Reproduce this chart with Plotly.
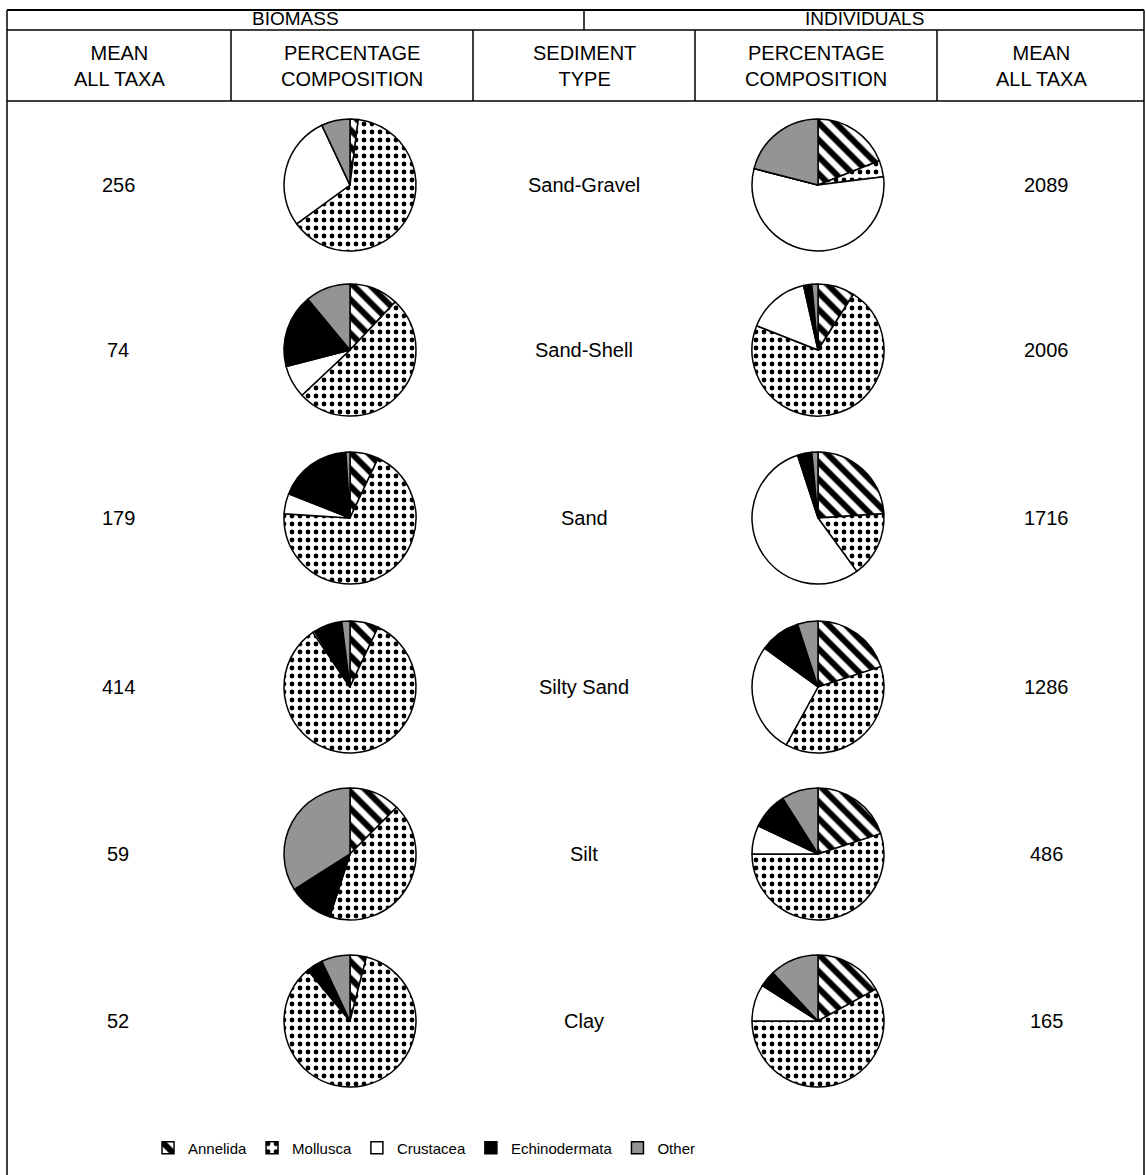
import plotly.graph_objects as go

W, H = 1146, 1175

taxa = ["Annelida", "Mollusca", "Crustacea", "Echinodermata", "Other"]
sediments = ["Sand-Gravel", "Sand-Shell", "Sand", "Silty Sand", "Silt", "Clay"]
biomass_mean = [256, 74, 179, 414, 59, 52]
individuals_mean = [2089, 2006, 1716, 1286, 486, 165]

# percentage composition (clockwise from 12 o'clock): Annelida, Mollusca, Crustacea, Echinodermata, Other
biomass_sand_gravel = [2, 63, 28, 0, 7]
biomass_sand_shell = [12, 51, 8, 18, 11]
biomass_sand = [7, 69, 5, 18, 1]
biomass_silty_sand = [7, 83.5, 0.5, 7, 2]
biomass_silt = [12.5, 42.5, 0, 11, 34]
biomass_clay = [4, 85, 0, 4, 7]

indiv_sand_gravel = [19, 4, 56, 0, 21]
indiv_sand_shell = [9, 72, 15.5, 2, 1.5]
indiv_sand = [24, 16, 55, 3.5, 1.5]
indiv_silty_sand = [20, 38, 27, 10, 5]
indiv_silt = [20, 55, 7, 9, 9]
indiv_clay = [17, 58, 9, 4, 12]

biomass_pct = [biomass_sand_gravel, biomass_sand_shell, biomass_sand,
               biomass_silty_sand, biomass_silt, biomass_clay]
indiv_pct = [indiv_sand_gravel, indiv_sand_shell, indiv_sand,
             indiv_silty_sand, indiv_silt, indiv_clay]

# styling
fills = ["white", "white", "white", "black", "#949494"]
pat_shapes = ["\\", ".", "", "", ""]
pat_fg = ["black", "black", "black", "black", "black"]
pat_sizes = [12, 8, 8, 8, 8]
pat_sol = [0.5, 0.28, 0.3, 0.3, 0.3]

row_y = [185, 350, 518, 687, 854, 1021]
bio_x, ind_x = 350, 818
R = 66
FONT = "Liberation Sans, Arial, sans-serif"


def xp(x):
    return x / W


def yp(y):
    return 1 - y / H


fig = go.Figure()

for i, yc in enumerate(row_y):
    for cx, vals in ((bio_x, biomass_pct[i]), (ind_x, indiv_pct[i])):
        fig.add_trace(go.Pie(
            labels=taxa, values=vals, sort=False, direction="clockwise",
            rotation=0, textinfo="none", hoverinfo="label+percent",
            showlegend=(i == 0 and cx == bio_x),
            marker=dict(colors=fills,
                        line=dict(color="black", width=1.5),
                        pattern=dict(shape=pat_shapes, fgcolor=pat_fg,
                                     bgcolor=fills, size=pat_sizes,
                                     solidity=pat_sol)),
            domain=dict(x=[xp(cx - R), xp(cx + R)],
                        y=[yp(yc + R), yp(yc - R)]),
        ))

shapes = []


def line(x0, y0, x1, y1, w=1.5):
    shapes.append(dict(type="line", xref="paper", yref="paper",
                       x0=xp(x0), y0=yp(y0), x1=xp(x1), y1=yp(y1),
                       line=dict(color="black", width=w)))


L, Rr = 7, 1144
TOP, R1, R2 = 10, 30, 101
line(L, TOP, Rr, TOP, 2)
line(L, R1, Rr, R1)
line(L, R2, Rr, R2)
line(L, TOP, L, H + 5)
line(Rr, TOP, Rr, H + 5)
line(584, TOP, 584, R1)
for vx in (231, 473, 695, 937):
    line(vx, R1, vx, R2)

ann = []


def text(x, y, s, size=20):
    ann.append(dict(x=xp(x), y=yp(y), xref="paper", yref="paper", text=s,
                    showarrow=False, xanchor="center", yanchor="middle",
                    font=dict(family=FONT, size=size, color="black")))


text(295, 19, "BIOMASS", 19)
text(864, 19, "INDIVIDUALS", 19)
heads = [(119, "MEAN<br>ALL TAXA"), (352, "PERCENTAGE<br>COMPOSITION"),
         (584, "SEDIMENT<br>TYPE"), (816, "PERCENTAGE<br>COMPOSITION"),
         (1041, "MEAN<br>ALL TAXA")]
for hx, s in heads:
    text(hx, 66, s, 20)

for i, yc in enumerate(row_y):
    text(118, yc, str(biomass_mean[i]), 20)
    text(584, yc, sediments[i], 20)
    text(1046, yc, str(individuals_mean[i]), 20)

fig.update_layout(
    width=W, height=H, margin=dict(l=0, r=0, t=0, b=0),
    paper_bgcolor="white", plot_bgcolor="white",
    shapes=shapes, annotations=ann,
    legend=dict(orientation="h", x=xp(148), y=yp(1148), xanchor="left",
                yanchor="middle", font=dict(family=FONT, size=15, color="black"),
                itemclick=False, traceorder="normal", bgcolor="rgba(0,0,0,0)",
                itemwidth=30, tracegroupgap=0),
)

fig.write_html("out.html", config={"displayModeBar": False},
               post_script="document.body.style.margin='0';")
